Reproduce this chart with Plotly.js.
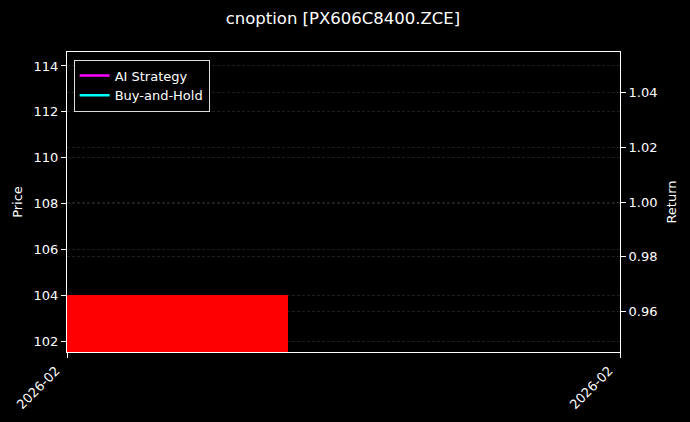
<!DOCTYPE html>
<html>
<head>
<meta charset="utf-8">
<script src="https://cdn.plot.ly/plotly-3.0.1.min.js"></script>
<style>
  body { margin: 0; background: #000; }
  #chart { width: 690px; height: 422px; }
</style>
</head>
<body>
<div id="chart"></div>
<script>
// one candle only, so the plot is mostly empty
var dates = ["2026-02-10"];
var openPx = [104.0];
var closePx = [101.0];
var aiReturn = [1.0];
var bhReturn = [1.0];
var xTicks = ["2026-02-10", "2026-02-11"];
var xTickText = ["2026-02", "2026-02"];

var DAY = 86400000;
var font = "DejaVu Sans, sans-serif";

var candle = {
    x: dates,
    y: openPx.map(function (o, i) { return o - closePx[i]; }),
    base: closePx,
    type: "bar",
    width: 0.8 * DAY,
    marker: { color: "#ff0000", line: { width: 0 } },
    showlegend: false,
    hoverinfo: "skip"
};

var traceAI = {
    x: dates,
    y: aiReturn,
    type: "scatter",
    mode: "lines",
    name: "AI Strategy",
    yaxis: "y2",
    line: { color: "#ff00ff", width: 2.5 }
};

var traceBH = {
    x: dates,
    y: bhReturn,
    type: "scatter",
    mode: "lines",
    name: "Buy-and-Hold",
    yaxis: "y2",
    line: { color: "#00ffff", width: 2.5 }
};

var gridCol = "rgba(110,110,110,0.55)";

var layout = {
    width: 690,
    height: 422,
    paper_bgcolor: "#000",
    plot_bgcolor: "#000",
    font: { family: font, color: "#fff", size: 13 },
    margin: { l: 67, r: 70, t: 52, b: 70 },
    title: {
        text: "cnoption [PX606C8400.ZCE]",
        font: { size: 16.5, color: "#fff" },
        x: 0.497, xanchor: "center", y: 0.957, yanchor: "middle"
    },
    showlegend: true,
    legend: {
        x: 0.012, y: 0.975, xanchor: "left", yanchor: "top",
        bgcolor: "#000", bordercolor: "#ddd", borderwidth: 1,
        font: { size: 13, color: "#fff" },
        tracegroupgap: 0
    },
    bargap: 0,
    xaxis: {
        type: "date",
        range: xTicks,
        tickmode: "array",
        tickvals: xTicks,
        ticktext: xTickText,
        tickangle: -45,
        ticklabelshift: -11,
        ticks: "outside", ticklen: 5, tickcolor: "#fff",
        showgrid: false, zeroline: false,
        showline: true, linecolor: "#fff", linewidth: 1, mirror: true
    },
    yaxis: {
        title: { text: "Price", font: { size: 13 }, standoff: 8 },
        range: [101.52, 114.61],
        dtick: 2, tick0: 100,
        ticks: "outside", ticklen: 5, tickcolor: "#fff",
        showgrid: true, gridcolor: gridCol, gridwidth: 0.5, griddash: "3px,2px",
        zeroline: false,
        showline: true, linecolor: "#fff", linewidth: 1, mirror: true
    },
    yaxis2: {
        title: { text: "Return", font: { size: 13 }, standoff: 10 },
        overlaying: "y",
        side: "right",
        range: [0.945, 1.055],
        dtick: 0.02, tick0: 0.96,
        tickformat: ".2f",
        ticks: "outside", ticklen: 5, tickcolor: "#fff",
        showgrid: true, gridcolor: gridCol, gridwidth: 0.5, griddash: "3px,2px",
        zeroline: false
    }
};

Plotly.newPlot("chart", [candle, traceAI, traceBH], layout, { displayModeBar: false, staticPlot: true });
</script>
</body>
</html>
